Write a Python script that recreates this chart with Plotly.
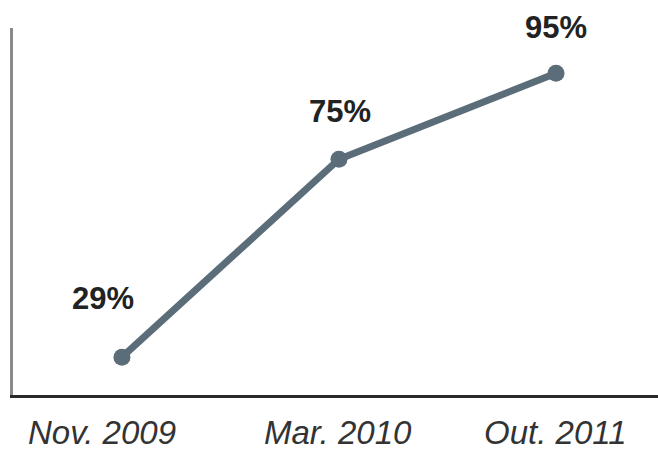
import plotly.graph_objects as go

periods = ["Nov. 2009", "Mar. 2010", "Out. 2011"]
values = [29, 75, 95]
value_labels = ["29%", "75%", "95%"]

line_color = "#5a6d79"

fig = go.Figure()
fig.add_trace(go.Scatter(
    x=list(range(len(periods))), y=values, mode="lines+markers",
    line=dict(color=line_color, width=7),
    marker=dict(color=line_color, size=17),
    hoverinfo="skip", showlegend=False,
))

label_shifts = [(-19, 39), (1, 28), (0, 26)]
for i, (lab, v) in enumerate(zip(value_labels, values)):
    dx, dy = label_shifts[i]
    fig.add_annotation(x=i, y=v, text="<b>%s</b>" % lab, showarrow=False,
                       xanchor="center", yanchor="bottom", xshift=dx, yshift=dy,
                       font=dict(family="Liberation Sans, Arial", size=31, color="#222222"))

tick_shifts = [-20, -1, -1]
for i, p in enumerate(periods):
    fig.add_annotation(x=i, y=0, yref="paper", text="<i>%s</i>" % p, showarrow=False,
                       xanchor="center", yanchor="top", xshift=tick_shifts[i], yshift=-16,
                       height=38, valign="middle",
                       font=dict(family="Liberation Sans, Arial", size=33, color="#333333"))

fig.update_layout(
    width=658, height=449,
    margin=dict(l=13, r=0, t=28, b=54),
    paper_bgcolor="white", plot_bgcolor="white",
    xaxis=dict(range=[-0.502, 2.47], showgrid=False, zeroline=False,
               showticklabels=False, showline=True, linecolor="#2a2a2a", linewidth=3),
    yaxis=dict(range=[20.2, 105.5], showgrid=False, zeroline=False,
               showticklabels=False, showline=True, linecolor="#8a8a8a", linewidth=3),
)

fig.write_html("out.html")
